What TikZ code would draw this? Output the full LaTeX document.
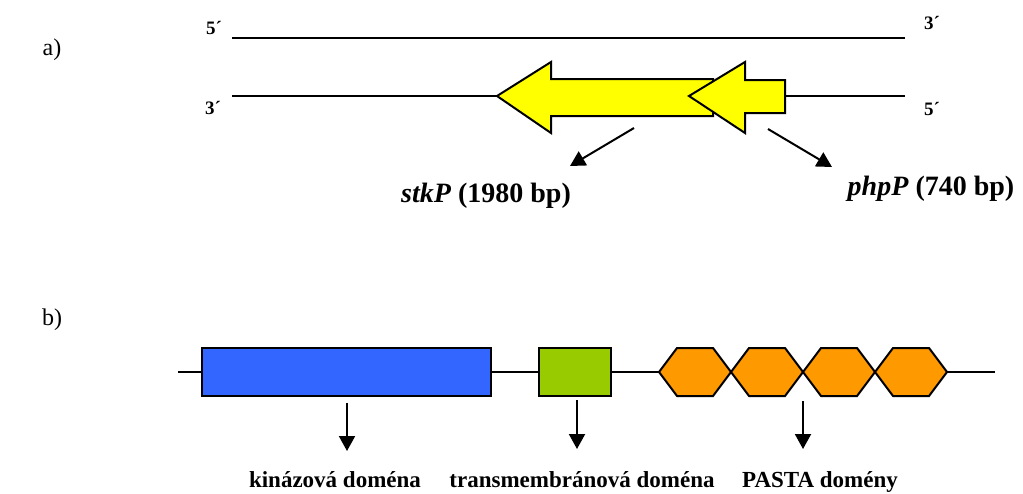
\documentclass[tikz,border=0pt]{standalone}
\usepackage{fontspec}
\setmainfont{Liberation Serif}
\usetikzlibrary{arrows.meta}
\definecolor{geneyellow}{HTML}{FFFF00}
\definecolor{kinblue}{HTML}{3366FF}
\definecolor{tmgreen}{HTML}{99CC00}
\definecolor{pastaorange}{HTML}{FF9900}
\tikzset{
  strand/.style={line width=1.8pt},
  shapeout/.style={draw=black,line width=2pt,line join=miter},
  endlabel/.style={font=\fontsize{19}{22}\selectfont\bfseries,inner sep=0pt},
  genelabel/.style={font=\fontsize{28}{32}\selectfont\bfseries,inner sep=0pt,anchor=base},
  domlabel/.style={font=\fontsize{23}{27}\selectfont\bfseries,inner sep=0pt,anchor=base},
  partlabel/.style={font=\fontsize{24}{28}\selectfont,inner sep=0pt},
  pointer/.style={line width=2pt,-{Triangle[width=16pt,length=15pt]}}
}
\begin{document}
\begin{tikzpicture}[x=1pt,y=-1pt]
\useasboundingbox[fill=white] (0,0) rectangle (1023,493);
% ---------- part a ----------
\node[partlabel] (la) at (52,50) {a)};
\node[endlabel] (tl) at (214,28) {5´};
\node[endlabel] (tr) at (932,23) {3´};
\node[endlabel] (bl) at (213,108) {3´};
\node[endlabel] (br) at (932,109) {5´};
\coordinate (t1) at (232,38);
\coordinate (t2) at (905,38);
\coordinate (b1) at (232,96);
\coordinate (b2) at (905,96);
\draw[strand] (t1) -- (t2);
\draw[strand] (b1) -- (b2);
% stkP arrow
\draw[shapeout,fill=geneyellow] (497,96) -- (551,62) -- (551,79) -- (713,79) -- (713,116) -- (551,116) -- (551,133) -- cycle;
% phpP arrow
\draw[shapeout,fill=geneyellow] (689,96) -- (745,62) -- (745,80) -- (785,80) -- (785,113) -- (745,113) -- (745,133) -- cycle;
\coordinate (sa) at (634,128);
\coordinate (sb) at (570,166);
\coordinate (pa) at (768,129);
\coordinate (pb) at (832,167);
\draw[pointer] (sa) -- (sb);
\draw[pointer] (pa) -- (pb);
\node[genelabel] (stk) at (486,202) {\textit{stkP} (1980 bp)};
\node[genelabel] (php) at (931,195) {\textit{phpP} (740 bp)};
% ---------- part b ----------
\node[partlabel] (lb) at (52,320) {b)};
\coordinate (p1) at (178,372);
\coordinate (p2) at (995,372);
\draw[strand] (p1) -- (p2);
\node[shapeout,fill=kinblue,minimum width=289pt,minimum height=48pt,inner sep=0pt] (kin) at (346.5,372) {};
\node[shapeout,fill=tmgreen,minimum width=72pt,minimum height=48pt,inner sep=0pt] (tm) at (575,372) {};
\foreach \x in {659,731,803,875}{
  \draw[shapeout,fill=pastaorange] (\x,372) -- ++(18,-24) -- ++(36,0) -- ++(18,24) -- ++(-18,24) -- ++(-36,0) -- cycle;
}
\coordinate (k1) at (347,403);
\coordinate (k2) at (347,451);
\coordinate (m1) at (577,400);
\coordinate (m2) at (577,449);
\coordinate (q1) at (803,401);
\coordinate (q2) at (803,449);
\draw[pointer] (k1) -- (k2);
\draw[pointer] (m1) -- (m2);
\draw[pointer] (q1) -- (q2);
\node[domlabel] (kt) at (335,487) {kinázová doména};
\node[domlabel] (mt) at (582,487) {transmembránová doména};
\node[domlabel] (qt) at (820,487) {PASTA domény};
\end{tikzpicture}
\end{document}
